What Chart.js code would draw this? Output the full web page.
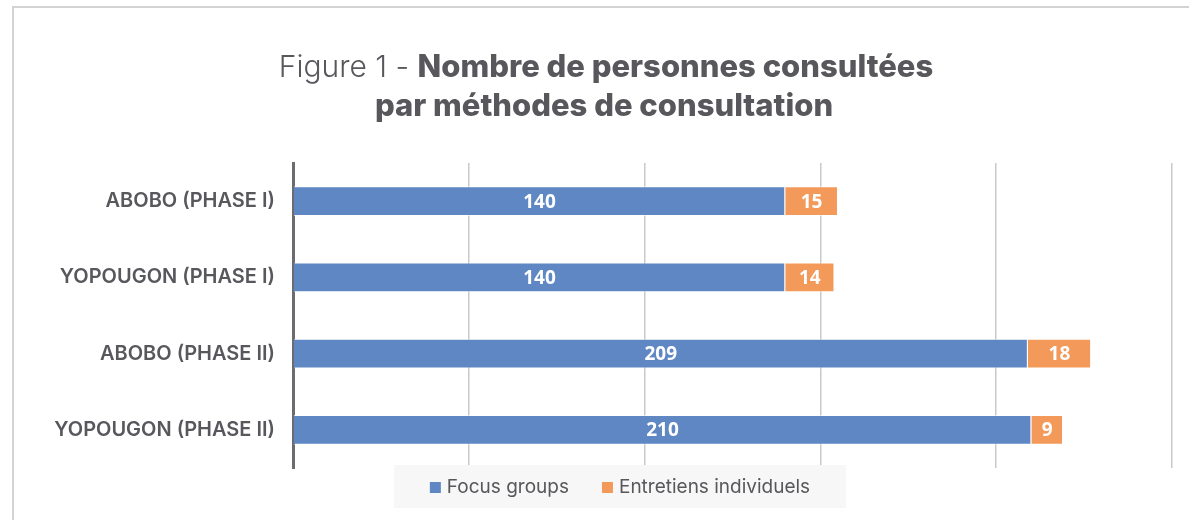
<!DOCTYPE html>
<html>
<head>
<meta charset="utf-8">
<script src="https://cdn.jsdelivr.net/npm/chart.js@4.4.1/dist/chart.umd.min.js"></script>
<style>
  body { margin: 0; background: #fff; }
  #wrap { position: relative; width: 1189px; height: 520px; overflow: hidden; }
  #frame { position: absolute; left: 12px; top: 6px; width: 1400px; height: 700px;
           border-left: 2px solid #d3d3d3; border-top: 2px solid #d3d3d3; }
  canvas { position: absolute; left: 0; top: 0; }
</style>
</head>
<body>
<div id="wrap">
  <div id="frame"></div>
  <canvas id="chart" width="1189" height="520"></canvas>
</div>
<script>
// ===== DATA =====
const categories = ['ABOBO (PHASE I)', 'YOPOUGON (PHASE I)', 'ABOBO (PHASE II)', 'YOPOUGON (PHASE II)'];
const focusGroups = [140, 140, 209, 210];
const entretiens = [15, 14, 18, 9];
const seriesNames = ['Focus groups', 'Entretiens individuels'];
const titlePrefix = 'Figure 1 - ';
const titleLine1 = 'Nombre de personnes consultées';
const titleLine2 = 'par méthodes de consultation';

const BLUE = '#5f87c3';
const ORANGE = '#f39a5b';
const TEXT = '#57575c';

// title drawn in the reserved top padding (mixed weights)
const titlePlugin = {
  id: 'mixedTitle',
  afterDraw(chart) {
    const ctx = chart.ctx;
    const cx = 606;
    ctx.save();
    ctx.fillStyle = TEXT;
    ctx.textAlign = 'left';
    ctx.textBaseline = 'alphabetic';
    ctx.font = '300 30px Inter';
    const w1 = ctx.measureText(titlePrefix).width;
    ctx.font = '800 31px Inter';
    const w2 = ctx.measureText(titleLine1).width;
    let x = cx - (w1 + w2) / 2;
    ctx.font = '300 30px Inter';
    ctx.fillText(titlePrefix, x, 77);
    ctx.font = '800 31px Inter';
    ctx.fillText(titleLine1, x + w1, 77);
    ctx.textAlign = 'center';
    ctx.fillText(titleLine2, cx - 2, 116);
    ctx.restore();
  }
};

// value labels centred in each segment
const valueLabels = {
  id: 'valueLabels',
  afterDatasetsDraw(chart) {
    const ctx = chart.ctx;
    ctx.save();
    ctx.fillStyle = '#ffffff';
    ctx.font = 'bold 19px "Open Sans"';
    ctx.textAlign = 'center';
    ctx.textBaseline = 'middle';
    chart.data.datasets.forEach((ds, i) => {
      chart.getDatasetMeta(i).data.forEach((bar, j) => {
        ctx.fillText(ds.data[j], (bar.x + bar.base) / 2, bar.y + 1);
      });
    });
    ctx.restore();
  }
};

// legend with grey background box
const boxLegend = {
  id: 'boxLegend',
  afterDraw(chart) {
    const ctx = chart.ctx;
    const y = 487;
    ctx.save();
    ctx.font = '19px Inter';
    const items = chart.data.datasets.map(ds => ({
      text: ds.label, color: ds.backgroundColor, w: ctx.measureText(ds.label).width
    }));
    const box = 11, gap = 6, spacing = 33;
    const total = items.reduce((s, it) => s + box + gap + it.w, 0) + spacing * (items.length - 1);
    const cx = 620;
    ctx.fillStyle = '#f7f7f7';
    ctx.fillRect(cx - 226, 465, 452, 43);
    let x = cx - total / 2;
    ctx.textBaseline = 'middle';
    ctx.textAlign = 'left';
    items.forEach(it => {
      ctx.fillStyle = it.color;
      ctx.fillRect(x, y - 5, box, box);
      ctx.fillStyle = TEXT;
      ctx.fillText(it.text, x + box + gap, y);
      x += box + gap + it.w + spacing;
    });
    ctx.restore();
  }
};

new Chart(document.getElementById('chart'), {
  type: 'bar',
  data: {
    labels: categories,
    datasets: [
      {
        label: seriesNames[0],
        data: focusGroups,
        backgroundColor: BLUE,
        borderColor: 'rgba(255,255,255,0.6)',
        borderWidth: 1,
        barPercentage: 0.8,
        categoryPercentage: 0.49
      },
      {
        label: seriesNames[1],
        data: entretiens,
        backgroundColor: ORANGE,
        borderColor: 'rgba(255,255,255,0.6)',
        borderWidth: 1,
        barPercentage: 0.8,
        categoryPercentage: 0.49
      }
    ]
  },
  options: {
    indexAxis: 'y',
    responsive: false,
    animation: false,
    layout: { padding: { top: 163, right: 17, bottom: 52, left: 0 } },
    plugins: {
      legend: { display: false },
      title: { display: false },
      tooltip: { enabled: false }
    },
    scales: {
      x: {
        stacked: true,
        z: 1,
        min: 0, max: 250,
        ticks: { display: false, stepSize: 50 },
        grid: { color: 'rgba(0,0,0,0.21)', lineWidth: 1.5, drawTicks: false },
        border: { display: false },
        afterFit(scale) { scale.height = 0; }
      },
      y: {
        stacked: true,
        z: 1,
        grid: { display: false, drawTicks: false },
        border: { display: true, color: '#6b6b70', width: 3 },
        ticks: {
          color: TEXT,
          padding: 18,
          font: { family: 'Inter', size: 20, weight: '600' }
        },
        afterFit(scale) { scale.width = 293; }
      }
    }
  },
  plugins: [titlePlugin, valueLabels, boxLegend]
});
</script>
</body>
</html>
